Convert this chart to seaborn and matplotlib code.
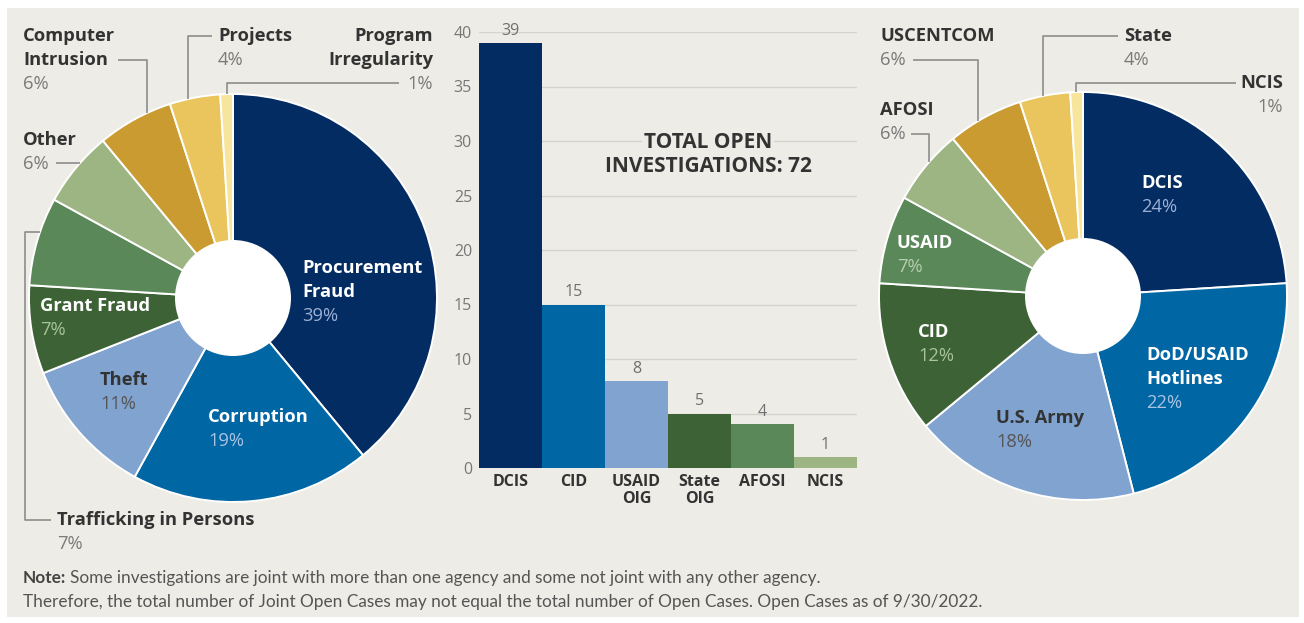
import matplotlib
matplotlib.use('Agg')
import matplotlib.pyplot as plt
import numpy as np
import seaborn as sns
from matplotlib.patches import Circle, Rectangle
from matplotlib import font_manager

# ---- data ----
crime_types = ['Procurement\nFraud', 'Corruption', 'Theft', 'Grant Fraud',
               'Trafficking in Persons', 'Other', 'Computer\nIntrusion',
               'Projects', 'Program\nIrregularity']
crime_pct = [39, 19, 11, 7, 7, 6, 6, 4, 1]

agencies = ['DCIS', 'CID', 'USAID\nOIG', 'State\nOIG', 'AFOSI', 'NCIS']
open_cases = [39, 15, 8, 5, 4, 1]
total_open = 72

sources = ['DCIS', 'DoD/USAID\nHotlines', 'U.S. Army', 'CID', 'USAID',
           'AFOSI', 'USCENTCOM', 'State', 'NCIS']
source_pct = [24, 22, 18, 12, 7, 6, 6, 4, 1]

note_lines = ['Some investigations are joint with more than one agency and some not joint with any other agency.',
              'Therefore, the total number of Joint Open Cases may not equal the total number of Open Cases. Open Cases as of 9/30/2022.']

# ---- style ----
NAVY, BLUE, LBLUE = '#032C62', '#0066A4', '#80A3CF'
DGREEN, MGREEN, LGREEN = '#3D6236', '#5B8858', '#9DB483'
GOLD, YELLOW, PALE = '#C99B31', '#EAC45C', '#F7E59C'
slice_colors = [NAVY, BLUE, LBLUE, DGREEN, MGREEN, LGREEN, GOLD, YELLOW, PALE]
bar_colors = slice_colors[:6]
BG = '#EDECE6'
DARK = '#333333'
GREY = '#7A7A7A'
LINE = '#8C8C8C'

sns.set_style('white')
plt.rcParams['font.family'] = ['Open Sans', 'DejaVu Sans']
installed = {f.name for f in font_manager.fontManager.ttflist}
note_font = 'Liberation Sans Narrow' if 'Liberation Sans Narrow' in installed else 'Lato'
note_size = 11.5 if note_font == 'Liberation Sans Narrow' else 12.4

W, H = 1304, 623
fig = plt.figure(figsize=(W / 100, H / 100), dpi=100)
fig.patch.set_facecolor('white')
ov = fig.add_axes([0, 0, 1, 1])


def Y(y):
    # image row -> overlay data y
    return H - y


LBL = 13.2


def put_label(ax, x, y, name, pct, ha='left', ncol=DARK, pcol=GREY):
    lines = name.split('\n')
    for i, ln in enumerate(lines):
        ax.text(x, Y(y + i * 24), ln, ha=ha, va='center', fontsize=LBL,
                fontweight='bold', color=ncol, zorder=5)
    ax.text(x, Y(y + len(lines) * 24), f'{pct}%', ha=ha, va='center',
            fontsize=LBL, color=pcol, zorder=5)


def leader(ax, pts):
    ax.plot([p[0] for p in pts], [Y(p[1]) for p in pts], color=LINE, lw=1.2,
            solid_capstyle='butt', zorder=4)


def donut(ax, vals, cx, cy, r):
    ax.pie(vals, colors=slice_colors, startangle=90, counterclock=False,
           center=(cx, Y(cy)), radius=r, frame=True,
           wedgeprops=dict(edgecolor='white', linewidth=1.4))
    ax.add_patch(Circle((cx, Y(cy)), 58, facecolor='white', edgecolor='none', zorder=3))


def top_hit(cx, cy, r, x):
    return cy - np.sqrt(r ** 2 - (x - cx) ** 2)


def left_hit(cx, cy, r, y):
    return cx - np.sqrt(r ** 2 - (cy - y) ** 2)


ov.add_patch(Rectangle((7, Y(617)), 1292, 609, facecolor=BG, edgecolor='none', zorder=0))

# ---- left donut: type of investigation ----
c1x, c1y, R = 233, 298, 204
donut(ov, crime_pct, c1x, c1y, R)
inside1 = {0: (302, 268, 'white', '#9CB0D6'), 1: (208, 417, 'white', '#A9C3E3'),
           2: (100, 380, DARK, '#555555'), 3: (40, 306, 'white', '#A9C49B')}
for i, (x, y, nc, pc) in inside1.items():
    put_label(ov, x, y, crime_types[i], crime_pct[i], ncol=nc, pcol=pc)
put_label(ov, 23, 36, crime_types[6], crime_pct[6])
put_label(ov, 218, 36, crime_types[7], crime_pct[7])
put_label(ov, 433, 36, crime_types[8], crime_pct[8], ha='right')
put_label(ov, 23, 140, crime_types[5], crime_pct[5])
put_label(ov, 57, 520, crime_types[4], crime_pct[4])
leader(ov, [(118, 60), (147, 60), (147, top_hit(c1x, c1y, R, 147))])
leader(ov, [(212, 36), (188, 36), (188, top_hit(c1x, c1y, R, 188))])
leader(ov, [(399, 83), (227, 83), (227, top_hit(c1x, c1y, R, 227))])
leader(ov, [(56, 163), (left_hit(c1x, c1y, R, 163), 163)])
leader(ov, [(51, 520), (25, 520), (25, 232), (left_hit(c1x, c1y, R, 232), 232)])

# ---- right donut: source of allegation ----
c2x, c2y = 1083, 296
donut(ov, source_pct, c2x, c2y, R)
inside2 = {0: (1141, 183, 'white', '#9CB0D6'), 1: (1146, 355, 'white', '#A9C3E3'),
           2: (996, 418, DARK, '#555555'), 3: (918, 332, 'white', '#A9C49B'),
           4: (897, 243, 'white', '#B5CDB0')}
for i, (x, y, nc, pc) in inside2.items():
    put_label(ov, x, y, sources[i], source_pct[i], ncol=nc, pcol=pc)
put_label(ov, 880, 36, sources[6], source_pct[6])
put_label(ov, 1124, 36, sources[7], source_pct[7])
put_label(ov, 1283, 83, sources[8], source_pct[8], ha='right')
put_label(ov, 880, 110, sources[5], source_pct[5])
leader(ov, [(913, 60), (978, 60), (978, top_hit(c2x, c2y, R, 978))])
leader(ov, [(1118, 36), (1043, 36), (1043, top_hit(c2x, c2y, R, 1043))])
leader(ov, [(1236, 83), (1076, 83), (1076, top_hit(c2x, c2y, R, 1076))])
leader(ov, [(911, 134), (929, 134), (929, top_hit(c2x, c2y, R, 929))])

ov.set_xlim(0, W)
ov.set_ylim(0, H)
ov.set_aspect('auto')
ov.axis('off')

# ---- note ----
t = ov.text(23, Y(578), 'Note:', fontsize=note_size, fontweight='bold', color='#444444',
            va='center', family=note_font)
fig.canvas.draw()
bb = t.get_window_extent()
ov.text(bb.x1 + 4, Y(578), note_lines[0], fontsize=note_size, color='#555555', va='center',
        family=note_font)
ov.text(23, Y(602), note_lines[1], fontsize=note_size, color='#555555', va='center',
        family=note_font)

# ---- middle bars: open investigations ----
bx = fig.add_axes([479 / W, (H - 468) / H, 378 / W, 436 / H])
sns.barplot(x=agencies, y=open_cases, hue=agencies, palette=bar_colors, width=1,
            saturation=1, legend=False, linewidth=0, edgecolor='none', ax=bx)
for cont in bx.containers:
    bx.bar_label(cont, padding=3, fontsize=11.5, color='#707070')
bx.set_xlim(-0.5, 5.5)
bx.set_ylim(0, 40)
bx.set_yticks(range(0, 41, 5))
bx.grid(axis='y', color='#D4D3CC', lw=1)
bx.set_axisbelow(True)
bx.set_facecolor('none')
for s in bx.spines.values():
    s.set_visible(False)
bx.tick_params(axis='both', length=0)
bx.tick_params(axis='y', pad=5, labelsize=11.5, labelcolor='#777777')
bx.tick_params(axis='x', pad=4, labelsize=11.5, labelcolor=DARK)
for lab in bx.get_xticklabels():
    lab.set_fontweight('bold')
    lab.set_linespacing(1.1)
bx.text(708, Y(143), 'TOTAL OPEN', transform=ov.transData, ha='center', va='center',
        fontsize=15, fontweight='bold', color=DARK, zorder=5,
        bbox=dict(facecolor=BG, edgecolor='none', pad=1))
bx.text(708, Y(167), f'INVESTIGATIONS: {total_open}', transform=ov.transData,
        ha='center', va='center', fontsize=15, fontweight='bold', color=DARK, zorder=5,
        bbox=dict(facecolor=BG, edgecolor='none', pad=1))

fig.savefig('out.png', dpi=100, facecolor='white')
